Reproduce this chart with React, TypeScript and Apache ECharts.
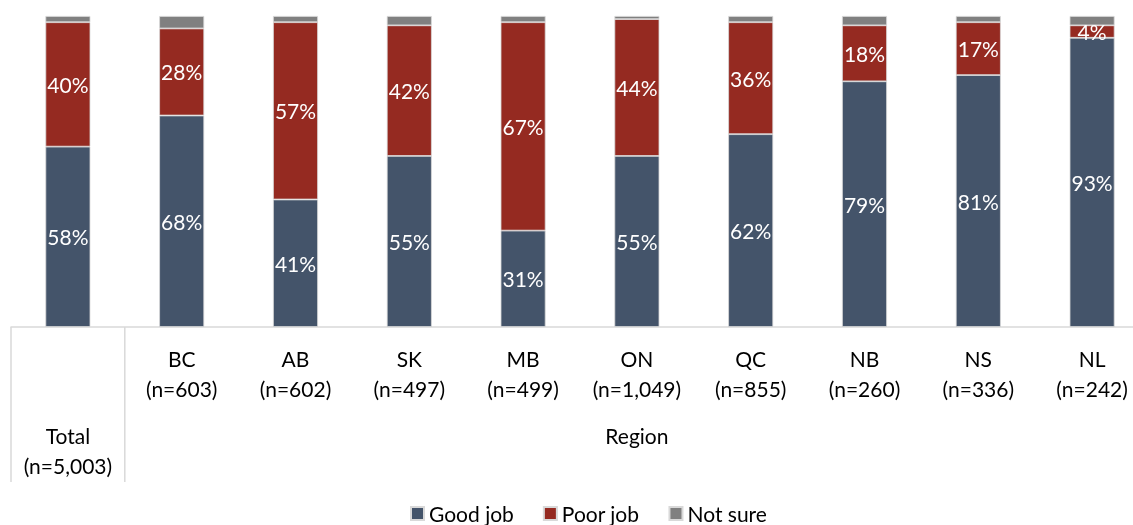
import React, { useEffect, useRef } from "react";
import * as echarts from "echarts";

const categories = ["Total", "BC", "AB", "SK", "MB", "ON", "QC", "NB", "NS", "NL"];
const sampleSizes = ["5,003", "603", "602", "497", "499", "1,049", "855", "260", "336", "242"];
const goodJob = [58, 68, 41, 55, 31, 55, 62, 79, 81, 93];
const poorJob = [40, 28, 57, 42, 67, 44, 36, 18, 17, 4];
const notSure = [2, 4, 2, 3, 2, 1, 2, 3, 2, 3];
const groupLabel = "Region";

const FONT = "Lato";
const COLORS = { good: "#44546A", poor: "#952A21", unsure: "#808080" };

export default function App() {
  const ref = useRef<HTMLDivElement>(null);
  useEffect(() => {
    if (!ref.current) return;
    const chart = echarts.init(ref.current, undefined, { renderer: "svg" });
    const labelStyle = {
      show: true,
      position: "inside",
      color: "#fff",
      fontFamily: FONT,
      fontSize: 21,
      formatter: (p: any) => `${p.value}%`,
    };
    const barBase = {
      type: "bar",
      stack: "total",
      barWidth: 45,
      itemStyle: { borderColor: "#d9d9d9", borderWidth: 0.8 },
    };
    chart.setOption({
      animation: false,
      textStyle: { fontFamily: FONT },
      grid: { left: 11, right: 1, top: 16, bottom: 198 },
      legend: {
        top: 498,
        left: 405,
        itemWidth: 13,
        itemHeight: 13,
        itemGap: 29,
        icon: "rect",
        textStyle: { fontFamily: FONT, fontSize: 21, color: "#000" },
        data: ["Good job", "Poor job", "Not sure"],
      },
      xAxis: {
        type: "category",
        data: categories,
        axisLine: { lineStyle: { color: "#d9d9d9", width: 1.5 } },
        axisTick: { show: false },
        axisLabel: {
          margin: 16,
          interval: 0,
          verticalAlign: "top",
          formatter: (v: string, i: number) =>
            i === 0
              ? `{sp| }\n{a|${v}}\n{a|(n=${sampleSizes[i]})}`
              : `{a|${v}}\n{a|(n=${sampleSizes[i]})}`,
          rich: {
            sp: { lineHeight: 77, fontSize: 10 },
            a: { fontFamily: FONT, fontSize: 21, lineHeight: 30, color: "#000" },
          },
        },
      },
      yAxis: { type: "value", min: 0, max: 100, show: false, splitLine: { show: false } },
      series: [
        { ...barBase, name: "Good job", data: goodJob, itemStyle: { ...barBase.itemStyle, color: COLORS.good }, label: labelStyle },
        { ...barBase, name: "Poor job", data: poorJob, itemStyle: { ...barBase.itemStyle, color: COLORS.poor }, label: labelStyle },
        { ...barBase, name: "Not sure", data: notSure, itemStyle: { ...barBase.itemStyle, color: COLORS.unsure }, label: { show: false } },
      ],
    });
    const x0 = chart.convertToPixel({ xAxisIndex: 0 }, 0) as number;
    const x1 = chart.convertToPixel({ xAxisIndex: 0 }, 1) as number;
    const xLast = chart.convertToPixel({ xAxisIndex: 0 }, categories.length - 1) as number;
    const bw = x1 - x0;
    const yAxisPix = chart.convertToPixel({ yAxisIndex: 0 }, 0) as number;
    const yEnd = 482;
    const vline = (x: number) => ({
      type: "line",
      shape: { x1: x, y1: yAxisPix, x2: x, y2: yEnd },
      style: { stroke: "#d9d9d9", lineWidth: 1.5 },
    });
    chart.setOption({
      graphic: [
        vline(x0 - bw / 2),
        vline(x0 + bw / 2),
        vline(xLast + bw / 2),
        {
          type: "text",
          x: (x1 + xLast) / 2,
          y: 435,
          style: {
            text: groupLabel,
            fontFamily: FONT,
            fontSize: 21,
            fill: "#000",
            align: "center",
            verticalAlign: "middle",
          },
        },
      ],
    });
    return () => chart.dispose();
  }, []);
  return (
    <div
      ref={ref}
      style={{ position: "fixed", left: 0, top: 0, width: 1150, height: 525 }}
    />
  );
}
